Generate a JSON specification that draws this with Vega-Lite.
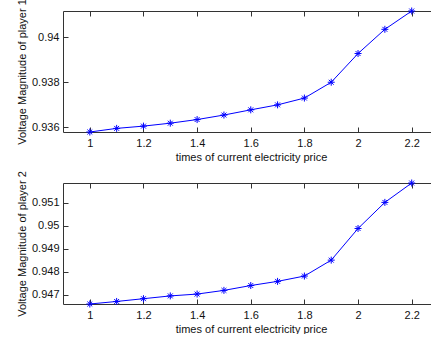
{
  "$schema": "https://vega.github.io/schema/vega-lite/v6.json",
  "background": "white",
  "padding": {"left": 16, "top": -2, "right": 0, "bottom": 0},
  "bounds": "flush",
  "spacing": 51,
  "config": {
    "view": {"stroke": null},
    "font": "Liberation Sans",
    "axis": {
      "domainColor": "#333333",
      "tickColor": "#333333",
      "tickSize": -5,
      "labelFont": "Liberation Sans",
      "labelFontSize": 11,
      "labelColor": "#111111",
      "titleFont": "Liberation Sans",
      "titleFontSize": 11,
      "titleFontWeight": "normal",
      "titleColor": "#111111",
      "grid": false
    }
  },
  "datasets": {
    "p1": [
      {"price": 1.0, "voltage": 0.93580},
      {"price": 1.1, "voltage": 0.93596},
      {"price": 1.2, "voltage": 0.93606},
      {"price": 1.3, "voltage": 0.93619},
      {"price": 1.4, "voltage": 0.93635},
      {"price": 1.5, "voltage": 0.93655},
      {"price": 1.6, "voltage": 0.93678},
      {"price": 1.7, "voltage": 0.93700},
      {"price": 1.8, "voltage": 0.93730},
      {"price": 1.9, "voltage": 0.93800},
      {"price": 2.0, "voltage": 0.93927},
      {"price": 2.1, "voltage": 0.94034},
      {"price": 2.2, "voltage": 0.94115}
    ],
    "p2": [
      {"price": 1.0, "voltage": 0.94661},
      {"price": 1.1, "voltage": 0.94672},
      {"price": 1.2, "voltage": 0.94684},
      {"price": 1.3, "voltage": 0.94696},
      {"price": 1.4, "voltage": 0.94704},
      {"price": 1.5, "voltage": 0.94720},
      {"price": 1.6, "voltage": 0.94741},
      {"price": 1.7, "voltage": 0.94759},
      {"price": 1.8, "voltage": 0.94782},
      {"price": 1.9, "voltage": 0.94851},
      {"price": 2.0, "voltage": 0.94988},
      {"price": 2.1, "voltage": 0.95101},
      {"price": 2.2, "voltage": 0.95185}
    ]
  },
  "vconcat": [
    {
      "width": 368,
      "height": 121,
      "data": {"name": "p1"},
      "encoding": {
        "y": {
          "field": "voltage", "type": "quantitative",
          "scale": {"domain": [0.9358, 0.94115], "nice": false, "zero": false},
          "axis": {"title": "Voltage Magnitude of player 1", "values": [0.936, 0.938, 0.94], "format": "~g", "labelPadding": 9, "titlePadding": 4}
        }
      },
      "layer": [
        {
          "mark": {"type": "line", "color": "#0000ff", "strokeWidth": 1},
          "encoding": {
            "x": {
              "field": "price", "type": "quantitative",
              "scale": {"domain": [0.9, 2.272], "nice": false, "zero": false},
              "axis": {"orient": "bottom", "title": "times of current electricity price", "values": [1, 1.2, 1.4, 1.6, 1.8, 2, 2.2], "format": "~g", "labelPadding": 10, "titlePadding": 3, "titleX": 188, "titleAlign": "center", "titleAnchor": null}
            }
          }
        },
        {
          "mark": {"type": "point", "shape": "M-1,0L1,0M0,-1L0,1M-0.7,-0.7L0.7,0.7M-0.7,0.7L0.7,-0.7", "filled": false, "color": "#0000ff", "size": 49, "strokeWidth": 1, "opacity": 1},
          "encoding": {
            "x": {
              "field": "price", "type": "quantitative",
              "axis": {"orient": "top", "title": null, "labels": false, "values": [1, 1.2, 1.4, 1.6, 1.8, 2, 2.2]}
            }
          }
        }
      ],
      "resolve": {"axis": {"x": "independent"}}
    },
    {
      "width": 368,
      "height": 121,
      "data": {"name": "p2"},
      "encoding": {
        "y": {
          "field": "voltage", "type": "quantitative",
          "scale": {"domain": [0.94661, 0.95185], "nice": false, "zero": false},
          "axis": {"title": "Voltage Magnitude of player 2", "values": [0.947, 0.948, 0.949, 0.95, 0.951], "format": "~g", "labelPadding": 9, "titlePadding": 4}
        }
      },
      "layer": [
        {
          "mark": {"type": "line", "color": "#0000ff", "strokeWidth": 1},
          "encoding": {
            "x": {
              "field": "price", "type": "quantitative",
              "scale": {"domain": [0.9, 2.272], "nice": false, "zero": false},
              "axis": {"orient": "bottom", "title": "times of current electricity price", "values": [1, 1.2, 1.4, 1.6, 1.8, 2, 2.2], "format": "~g", "labelPadding": 10, "titlePadding": 3, "titleX": 188, "titleAlign": "center", "titleAnchor": null}
            }
          }
        },
        {
          "mark": {"type": "point", "shape": "M-1,0L1,0M0,-1L0,1M-0.7,-0.7L0.7,0.7M-0.7,0.7L0.7,-0.7", "filled": false, "color": "#0000ff", "size": 49, "strokeWidth": 1, "opacity": 1},
          "encoding": {
            "x": {
              "field": "price", "type": "quantitative",
              "axis": {"orient": "top", "title": null, "labels": false, "values": [1, 1.2, 1.4, 1.6, 1.8, 2, 2.2]}
            }
          }
        }
      ],
      "resolve": {"axis": {"x": "independent"}}
    }
  ]
}
